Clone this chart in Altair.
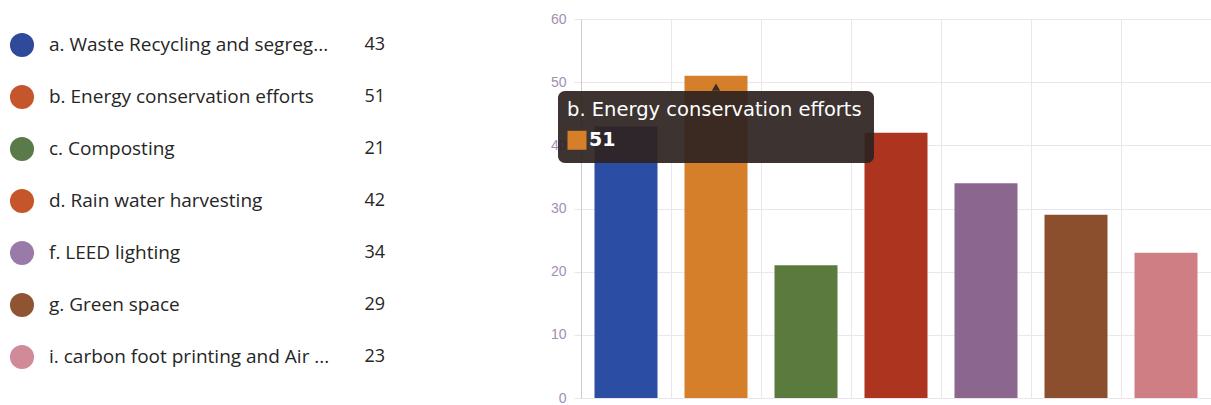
import altair as alt
import pandas as pd

labels = [
    "a. Waste Recycling and segreg...",
    "b. Energy conservation efforts",
    "c. Composting",
    "d. Rain water harvesting",
    "f. LEED lighting",
    "g. Green space",
    "i. carbon foot printing and Air ...",
]
values = [43, 51, 21, 42, 34, 29, 23]
bar_colors = ["#2b4ea4", "#d67f2a", "#5b7a3e", "#ad3520", "#8b6790", "#8c4f2e", "#cf7f84"]
dot_colors = ["#2f4a9a", "#c5562c", "#5b7a4a", "#c5562c", "#9a7aa8", "#8f5532", "#d08a98"]
y_ticks = [0, 10, 20, 30, 40, 50, 60]
highlight = 1  # index of the item shown in the hover tooltip

FONT = "Open Sans"

df = pd.DataFrame({"label": labels, "value": values,
                   "bar_color": bar_colors, "dot_color": dot_colors})

# ---------- legend list on the left ----------
ly = alt.Y("label:N", scale=alt.Scale(domain=labels, paddingInner=0, paddingOuter=0), axis=None)
lbase = alt.Chart(df)
dots = lbase.mark_circle(size=580, opacity=1).encode(
    x=alt.value(22), y=ly, color=alt.Color("dot_color:N", scale=None))
names = lbase.mark_text(align="left", baseline="middle", font=FONT, fontSize=19, color="#262626").encode(
    x=alt.value(49), y=ly, text="label:N")
nums = lbase.mark_text(align="right", baseline="middle", font=FONT, fontSize=18, color="#262626").encode(
    x=alt.value(385), y=ly, text="value:Q")
legend = alt.layer(dots, names, nums).properties(width=420, height=364)

# ---------- bar chart ----------
GRID = "#ebe6ee"
xs = alt.Scale(domain=labels, paddingInner=0.3, paddingOuter=0.15)
ys = alt.Scale(domain=[0, 60])
xenc = alt.X("label:N", scale=xs, axis=alt.Axis(labels=False, ticks=False, domain=False, title=None,
                                                 grid=True, bandPosition=-0.214, gridColor=GRID))
yenc = alt.Y("value:Q", scale=ys, axis=alt.Axis(values=y_ticks, title=None, labelColor="#a08fb3",
                                                 labelFont="Liberation Sans", labelFontSize=14,
                                                 tickSize=7, tickColor=GRID, domainColor="#cfcad4",
                                                 gridColor=GRID, labelPadding=8))
bars = alt.Chart(df).mark_bar().encode(x=xenc, y=yenc, color=alt.Color("bar_color:N", scale=None))

tip = pd.DataFrame({"label": [labels[highlight]], "value": [values[highlight]],
                    "color": [bar_colors[highlight]]})
tx = alt.X("label:N", scale=xs)
tbox = alt.Chart(tip).mark_bar(width=316, color="#2e2320", opacity=0.93, cornerRadius=7).encode(
    x=tx, y=alt.datum(48.6), y2=alt.datum(37.2))
tarrow = alt.Chart(tip).mark_point(shape="triangle-up", filled=True, size=70, color="#2e2320", opacity=0.93).encode(
    x=tx, y=alt.datum(49.2))
ttitle = alt.Chart(tip).mark_text(align="left", baseline="middle", dx=-149, font="DejaVu Sans",
                                  fontSize=19.5, color="white").encode(
    x=tx, y=alt.datum(45.6), text="label:N")
tsq = alt.Chart(tip).mark_square(size=360, opacity=1, xOffset=-139).encode(
    x=tx, y=alt.datum(40.8), color=alt.Color("color:N", scale=None))
tval = alt.Chart(tip).mark_text(align="left", baseline="middle", dx=-127, font="DejaVu Sans",
                                fontSize=19, fontWeight="bold", color="white").encode(
    x=tx, y=alt.datum(40.9), text="value:Q")

barchart = alt.layer(bars, tbox, tarrow, ttitle, tsq, tval).properties(width=630, height=379)

chart = alt.hconcat(legend, barchart, spacing=161, bounds="flush").properties(
    padding={"left": 0, "top": 12, "right": 0, "bottom": 5},
    background="white",
).configure_view(stroke=None)

chart.save("out.html", embed_options={"renderer": "svg", "actions": False})
